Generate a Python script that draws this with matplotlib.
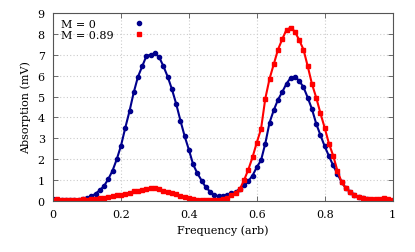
import numpy as np
import matplotlib
matplotlib.use("Agg")
import matplotlib.pyplot as plt
from matplotlib.lines import Line2D

# Frequency grid (arb)
freq = [i / 80 for i in range(81)]

# M = 0 series (mV)
absorb_m0 = [0.10, 0.04, 0.04, 0.05, 0.05, 0.05, 0.06, 0.08, 0.14, 0.22,
             0.35, 0.52, 0.72, 1.05, 1.45, 2.00, 2.65, 3.50, 4.30, 5.20,
             5.95, 6.45, 6.95, 7.00, 7.08, 6.88, 6.45, 5.95, 5.35, 4.65,
             3.85, 3.10, 2.45, 1.75, 1.32, 0.98, 0.65, 0.45, 0.28, 0.22,
             0.26, 0.30, 0.37, 0.43, 0.58, 0.75, 0.95, 1.22, 1.62, 1.95,
             2.75, 3.75, 4.35, 4.85, 5.22, 5.62, 5.90, 5.95, 5.75, 5.45,
             4.95, 4.40, 3.70, 3.15, 2.62, 2.15, 1.70, 1.30, 0.90, 0.62,
             0.45, 0.30, 0.18, 0.13, 0.09, 0.04, 0.00, -0.02, -0.03, 0.00,
             0.02]

# M = 0.89 series (mV)
absorb_m089 = [0.07, 0.08, 0.05, 0.06, 0.05, 0.07, 0.06, 0.08, 0.07, 0.09,
               0.10, 0.12, 0.15, 0.18, 0.22, 0.27, 0.30, 0.34, 0.40, 0.46,
               0.50, 0.54, 0.57, 0.60, 0.61, 0.57, 0.50, 0.45, 0.40, 0.32,
               0.24, 0.17, 0.13, 0.09, 0.06, 0.05, 0.03, 0.04, 0.05, 0.07,
               0.10, 0.12, 0.27, 0.40, 0.57, 1.00, 1.50, 2.10, 2.80, 3.45,
               4.90, 5.85, 6.55, 7.25, 7.75, 8.20, 8.30, 8.10, 7.70, 7.25,
               6.45, 5.60, 4.95, 4.20, 3.50, 2.75, 2.17, 1.45, 0.90, 0.60,
               0.42, 0.28, 0.20, 0.14, 0.10, 0.10, 0.08, 0.10, 0.12, 0.08,
               0.05]

labels = ["M = 0", "M = 0.89"]
x_ticks = [0, 0.2, 0.4, 0.6, 0.8, 1]
x_tick_labels = ["0", "0.2", "0.4", "0.6", "0.8", "1"]
y_ticks = list(range(10))

BLUE = "#00008c"
RED = "#ff0000"

plt.rcParams['font.family'] = ['DejaVu Serif']
plt.rcParams['font.size'] = 8

fig = plt.figure(figsize=(4.15, 2.53), dpi=100)
ax = fig.add_axes([0.128, 0.2016, 0.818, 0.7431])

ax.plot(freq, absorb_m0, color=BLUE, lw=1.5, marker='o', ms=3.0,
        label=labels[0])
ax.plot(freq, absorb_m089, color=RED, lw=1.5, marker='s', ms=3.0,
        label=labels[1])

ax.set_xlim(0, 1)
ax.set_ylim(0, 9)
ax.set_xticks(x_ticks)
ax.set_xticklabels(x_tick_labels)
ax.set_yticks(y_ticks)
ax.grid(True, color='#cccccc', linestyle=(0, (1, 2)), linewidth=0.8)
ax.tick_params(direction='in', top=True, right=True, length=3.5,
               width=0.6, color='#555555', pad=6)
for s in ax.spines.values():
    s.set_color('#555555')
    s.set_linewidth(0.8)

ax.set_xlabel("Frequency (arb)", labelpad=4)
ax.set_ylabel("Absorption (mV)", labelpad=5)

handles, labs = ax.get_legend_handles_labels()
keys = [Line2D([], [], color=BLUE, marker='o', ls='none', ms=3.0),
        Line2D([], [], color=RED, marker='s', ls='none', ms=3.0)]
leg = ax.legend(keys, labs, loc='upper left', bbox_to_anchor=(0.005, 1.0),
                markerfirst=False, frameon=False, handlelength=1.0,
                handletextpad=1.8, labelspacing=0.05, borderaxespad=0.3,
                borderpad=0.25)
fig.canvas.draw()
r = fig.canvas.get_renderer()
widths = [t.get_window_extent(r).width for t in leg.get_texts()]
rows = leg._legend_handle_box.get_children()[0].get_children()
for row, w in zip(rows, widths):
    row.sep += (max(widths) - w) * 72.0 / fig.dpi

fig.savefig("out.png", dpi=100)
